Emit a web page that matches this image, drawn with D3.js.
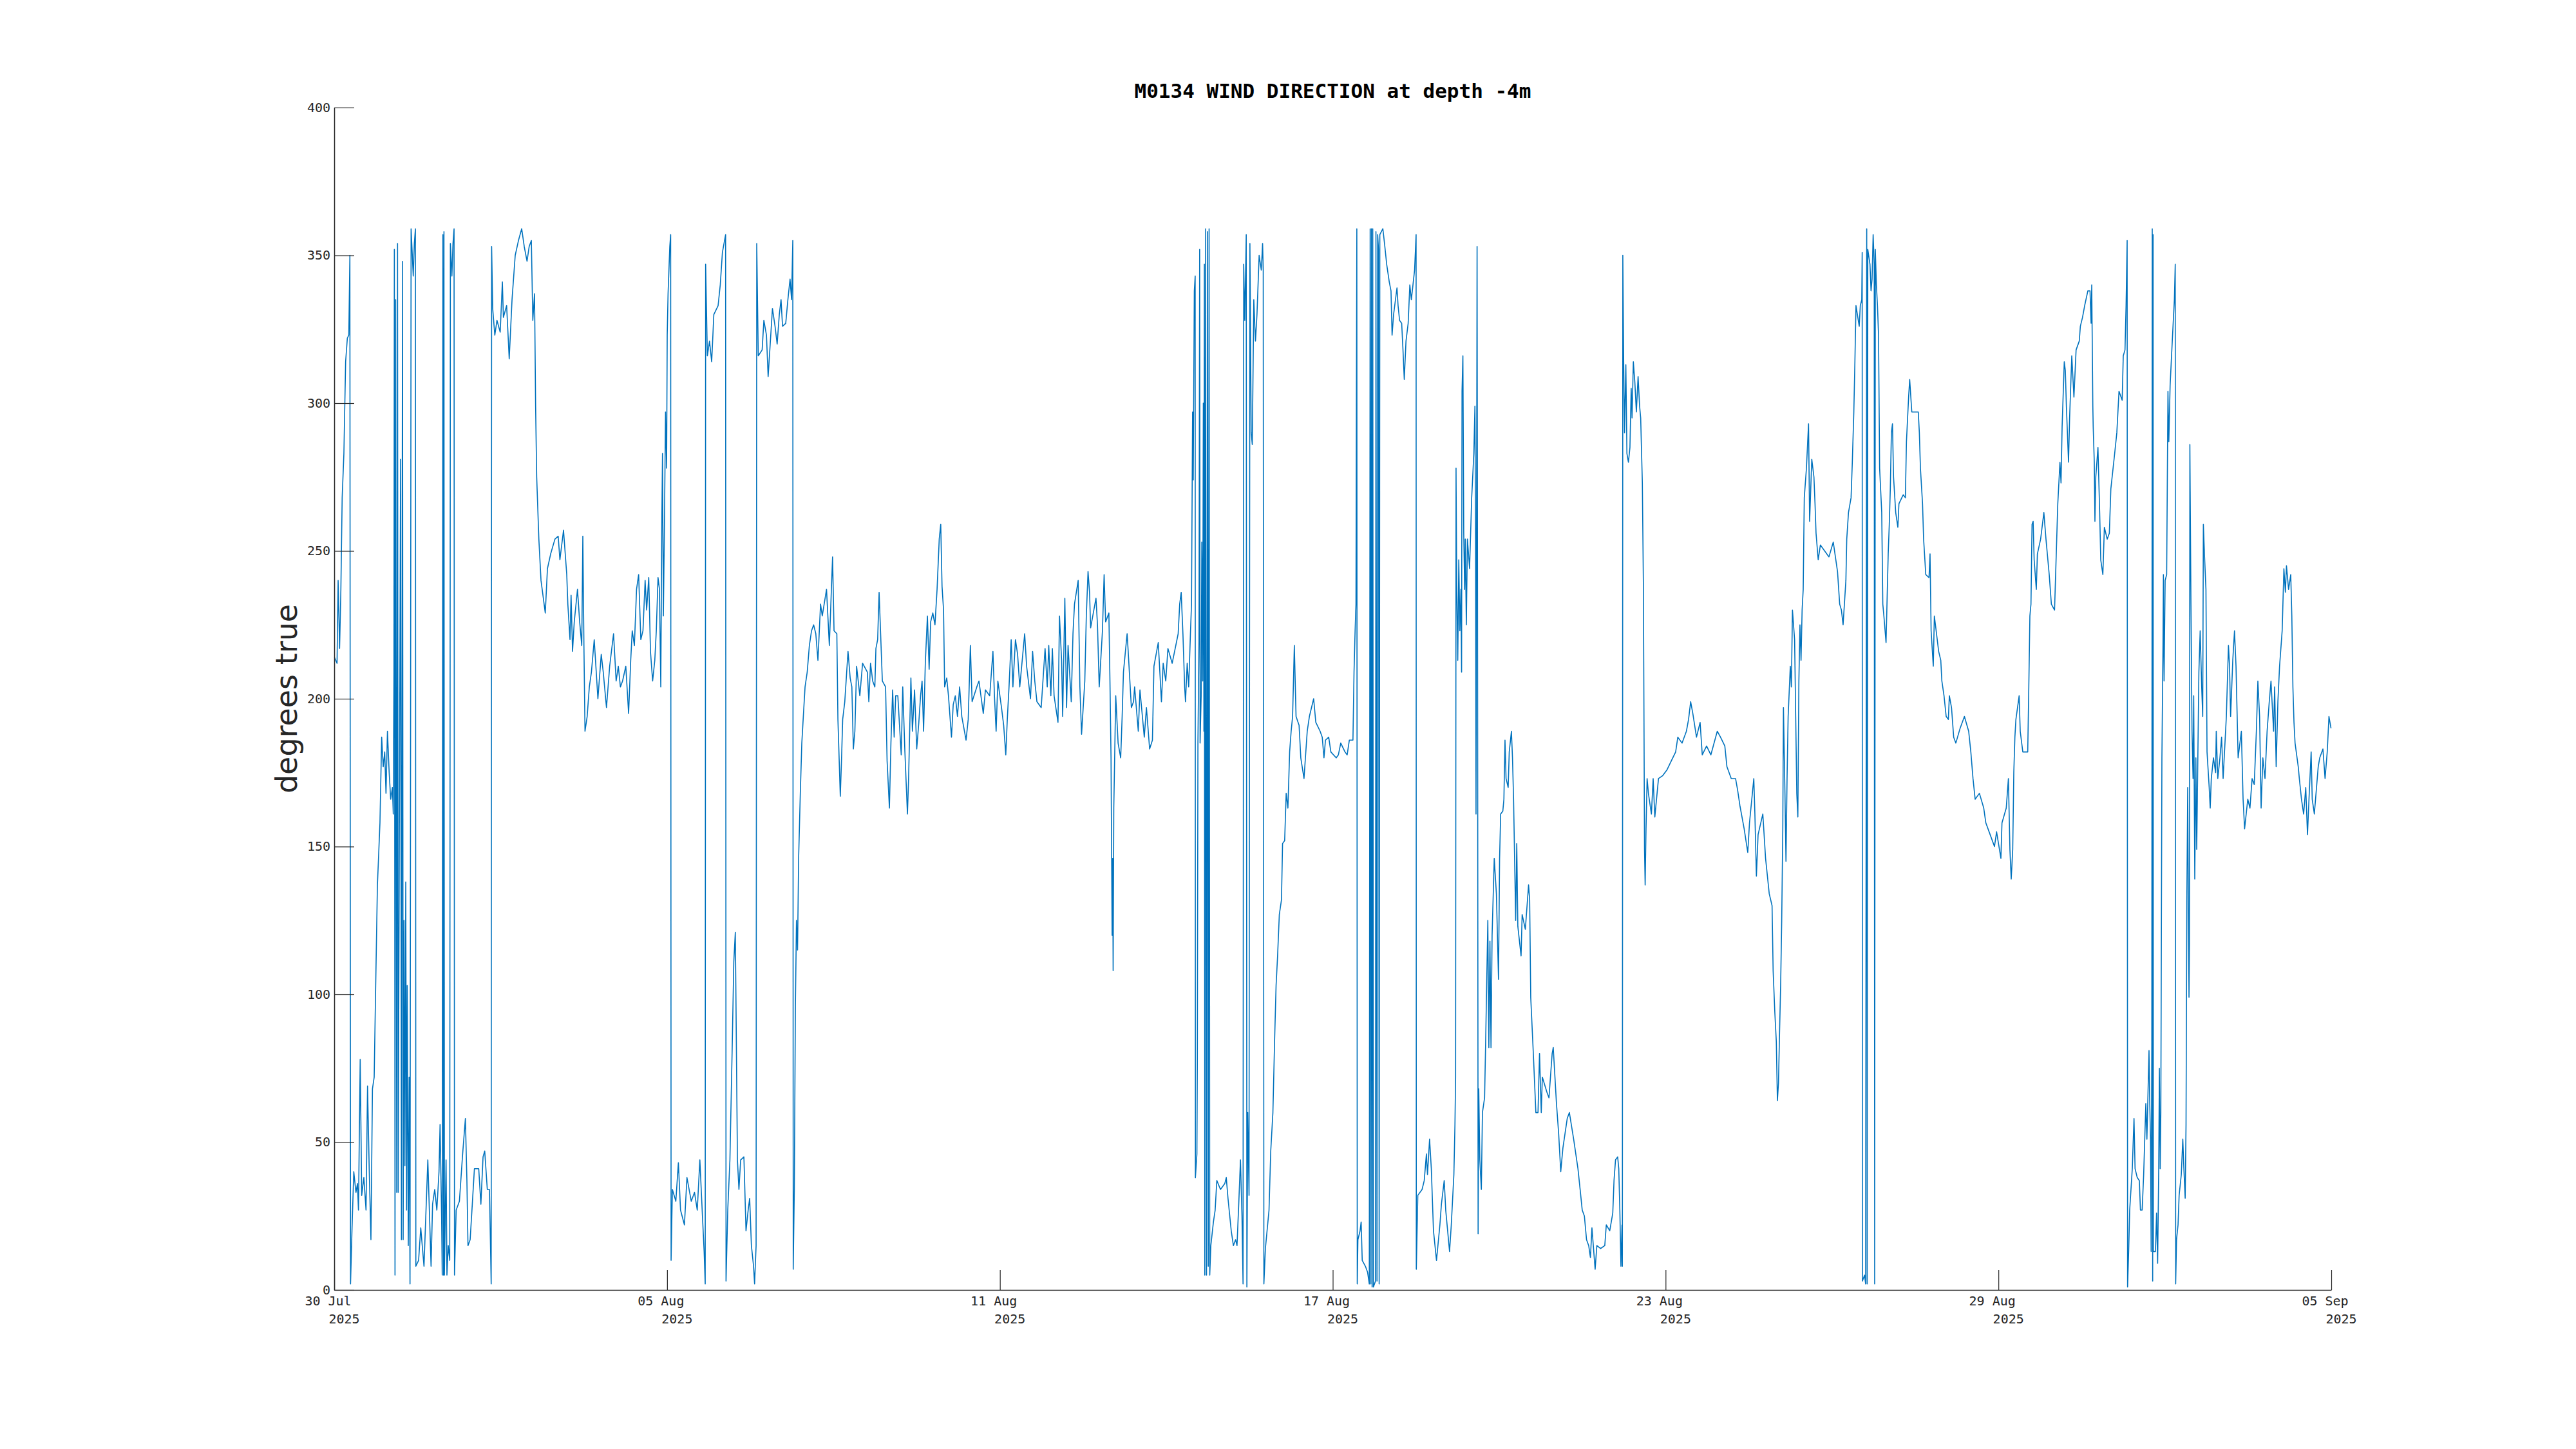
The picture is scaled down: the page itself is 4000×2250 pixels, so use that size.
<!DOCTYPE html>
<html>
<head>
<meta charset="utf-8">
<script src="https://cdn.jsdelivr.net/npm/d3@7"></script>
<style>
  html, body { margin: 0; padding: 0; background: #ffffff; }
  svg { display: block; }
</style>
</head>
<body>
<svg id="chart" width="4000" height="2250"></svg>
<script>
// ---------------- DATA ----------------
const chartTitle = "M0134 WIND DIRECTION at depth -4m";
const yLabel = "degrees true";
const startDateUTC = Date.UTC(2025, 6, 30);   // 30 Jul 2025 00:00
const spanDays = 37;                           // to 05 Sep 2025 00:00
const xTickLabels = ["30 Jul", "05 Aug", "11 Aug", "17 Aug", "23 Aug", "29 Aug", "05 Sep"];
const xTickYears  = ["2025", "2025", "2025", "2025", "2025", "2025", "2025"];
const yTickValues = [0, 50, 100, 150, 200, 250, 300, 350, 400];

// time of each sample, in days since 30 Jul 2025 00:00
const dayOffsets = [
  // 30 Jul - 03 Aug
  0.004,0.052,0.072,0.099,0.123,0.147,0.179,0.211,0.243,0.270,
  0.290,0.302,0.330,0.362,0.402,0.430,0.449,0.481,0.509,0.549,
  0.589,0.617,0.648,0.680,0.708,0.740,0.768,0.800,0.827,0.847,
  0.879,0.907,0.935,0.959,0.986,1.018,1.046,1.078,1.094,1.106,
  1.114,1.126,1.138,1.158,1.173,1.185,1.229,1.245,1.265,1.277,
  1.293,1.309,1.325,1.340,1.352,1.372,1.388,1.404,1.424,1.464,
  1.484,1.504,1.512,1.563,1.603,1.663,1.734,1.794,1.822,1.862,
  1.901,1.941,1.961,1.989,2.001,2.013,2.025,2.033,2.041,2.072,
  2.088,2.112,2.140,2.152,2.180,2.200,2.220,2.228,2.259,2.319,
  2.379,2.430,2.458,2.478,2.518,2.558,2.597,2.677,2.717,2.757,
  2.788,2.836,2.876,2.908,2.916,2.936,2.975,3.015,3.075,3.115,
  3.134,3.194,3.242,3.294,3.353,3.413,3.473,3.520,3.572,3.612,
  3.652,3.679,3.711,3.731,3.751,3.791,3.831,3.910,3.950,4.010,
  4.089,4.149,4.181,4.248,4.308,4.328,4.368,4.388,4.415,4.447,
  4.507,4.547,4.586,4.606,4.626,4.646,
  // 03 Aug - 08 Aug
  4.686,4.726,4.765,4.817,4.885,4.947,4.984,5.044,5.103,5.175,
  5.223,5.263,5.302,5.342,5.402,5.454,5.493,5.521,5.561,5.601,
  5.640,5.680,5.720,5.760,5.788,5.827,5.859,5.899,5.939,5.967,
  5.999,6.026,6.050,6.070,6.082,6.098,6.118,6.138,6.158,6.169,
  6.185,6.205,6.217,6.233,6.241,6.265,6.329,6.376,6.416,6.488,
  6.535,6.615,6.675,6.726,6.774,6.822,6.853,6.873,6.881,6.913,
  6.953,6.993,7.033,7.112,7.152,7.192,7.251,7.259,7.291,7.331,
  7.371,7.403,7.431,7.450,7.470,7.498,7.530,7.590,7.629,7.669,
  7.697,7.729,7.769,7.788,7.816,7.828,7.856,7.928,7.960,8.008,
  8.039,8.119,8.167,8.206,8.246,8.278,8.306,8.365,8.405,8.445,
  8.473,8.496,8.504,8.524,8.544,8.564,8.584,8.604,8.635,8.663,
  8.691,8.723,8.763,8.803,8.843,8.882,8.922,8.962,9.010,9.042,
  9.121,9.173,9.201,9.233,
  // 08 Aug - 12 Aug
  9.260,9.312,9.332,9.376,9.400,9.420,9.459,9.519,9.559,9.590,
  9.618,9.646,9.678,9.738,9.789,9.877,9.905,9.936,9.976,10.016,
  10.036,10.068,10.095,10.123,10.155,10.215,10.243,10.286,10.314,10.346,
  10.374,10.402,10.442,10.473,10.505,10.533,10.573,10.593,10.620,10.640,
  10.684,10.712,10.752,10.792,10.831,10.863,10.891,10.919,10.951,10.990,
  11.022,11.050,11.090,11.130,11.169,11.209,11.237,11.261,11.289,11.309,
  11.348,11.380,11.436,11.468,11.507,11.547,11.587,11.627,11.706,11.746,
  11.786,11.818,11.905,11.945,12.025,12.065,12.144,12.204,12.232,12.263,
  12.295,12.363,12.403,12.442,12.470,12.502,12.542,12.574,12.621,12.661,
  12.701,12.792,12.828,12.900,12.939,12.979,13.019,13.098,13.170,13.210,
  13.238,13.277,13.305,13.337,13.409,13.437,13.476,13.496,13.536,13.568,
  13.596,13.655,13.687,13.715,13.783,13.815,13.846,13.906,13.934,13.966,
  // 12 Aug - 17 Aug
  13.994,14.014,14.054,14.113,14.141,14.173,14.233,14.264,14.292,14.352,
  14.372,14.392,14.412,14.423,14.431,14.443,14.479,14.523,14.571,14.598,
  14.622,14.690,14.710,14.769,14.809,14.829,14.897,14.928,15.008,15.048,
  15.107,15.159,15.187,15.267,15.326,15.358,15.406,15.446,15.525,15.636,
  15.664,15.692,15.724,15.756,15.772,15.803,15.831,15.863,15.883,15.903,
  15.915,15.935,15.951,15.955,15.983,15.991,16.002,16.022,16.034,16.042,
  16.062,16.074,16.090,16.102,16.113,16.121,16.129,16.145,16.161,16.181,
  16.193,16.209,16.221,16.241,16.289,16.321,16.352,16.420,16.500,16.527,
  16.559,16.619,16.659,16.699,16.726,16.758,16.790,16.818,16.838,16.850,
  16.870,16.897,16.909,16.925,16.949,16.965,16.989,17.009,17.037,17.068,
  17.096,17.136,17.176,17.200,17.212,17.224,17.252,17.319,17.351,17.391,
  17.422,17.450,17.478,17.510,17.550,17.570,17.609,17.637,17.669,17.701,
  17.729,17.756,17.788,17.820,17.876,17.908,17.967,18.027,18.067,18.146,
  18.186,18.266,18.305,18.337,18.365,18.425,18.465,18.564,18.604,
  // 17 Aug - 22 Aug
  18.648,18.727,18.767,18.807,18.874,18.894,18.914,18.930,18.938,18.946,
  18.954,18.966,19.006,19.026,19.046,19.105,19.145,19.177,19.193,19.205,
  19.217,19.229,19.241,19.253,19.292,19.300,19.320,19.332,19.348,19.360,
  19.372,19.428,19.459,19.499,19.547,19.579,19.599,19.627,19.690,19.710,
  19.738,19.777,19.801,19.825,19.857,19.897,19.928,19.956,20.016,20.044,
  20.048,20.076,20.155,20.195,20.235,20.255,20.294,20.326,20.366,20.422,
  20.485,20.513,20.565,20.593,20.664,20.696,20.744,20.764,20.776,20.784,
  20.796,20.816,20.835,20.855,20.875,20.887,20.895,20.911,20.927,20.943,
  20.955,20.975,20.995,21.035,21.074,21.114,21.134,21.146,21.154,21.166,
  21.174,21.182,21.193,21.205,21.225,21.253,21.273,21.313,21.333,21.373,
  21.392,21.412,21.432,21.452,21.492,21.532,21.571,21.591,21.611,21.651,
  21.671,21.691,21.711,21.750,21.770,21.810,21.830,21.850,21.889,21.909,
  21.929,21.989,22.009,22.068,22.128,22.148,22.168,22.216,22.263,22.303,
  22.331,22.363,22.383,22.466,22.506,22.565,22.585,22.645,22.685,22.724,
  22.764,22.844,22.884,22.963,23.043,23.083,23.122,23.162,23.202,23.242,
  // 22 Aug - 27 Aug
  23.274,23.302,23.361,23.393,23.461,23.540,23.568,23.632,23.688,23.711,
  23.739,23.779,23.799,23.819,23.839,23.859,23.866,23.874,23.890,23.906,
  23.930,23.950,23.978,24.006,24.029,24.045,24.069,24.097,24.125,24.157,
  24.185,24.205,24.236,24.256,24.276,24.288,24.304,24.324,24.348,24.404,
  24.436,24.467,24.535,24.614,24.694,24.773,24.853,24.893,24.972,25.052,
  25.092,25.131,25.171,25.239,25.306,25.346,25.426,25.505,25.624,25.684,
  25.764,25.803,25.883,25.963,26.002,26.042,26.122,26.189,26.221,26.301,
  26.321,26.349,26.380,26.468,26.519,26.587,26.639,26.659,26.690,26.718,
  26.738,26.758,26.778,26.798,26.818,26.838,26.850,26.878,26.897,26.917,
  26.937,26.977,26.997,27.017,27.057,27.077,27.097,27.117,27.136,27.156,
  27.176,27.196,27.216,27.236,27.276,27.315,27.335,27.375,27.415,27.435,
  27.454,27.494,27.534,27.693,27.773,27.852,27.892,27.924,
  // 27 Aug - 01 Sep
  27.955,28.007,28.023,28.055,28.103,28.126,28.154,28.174,28.194,28.254,
  28.274,28.301,28.309,28.313,28.353,28.373,28.393,28.401,28.413,28.453,
  28.473,28.492,28.512,28.532,28.540,28.552,28.572,28.592,28.612,28.632,
  28.671,28.691,28.711,28.751,28.791,28.811,28.830,28.850,28.870,28.890,
  28.930,28.970,28.990,29.069,29.109,29.129,29.169,29.189,29.228,29.348,
  29.368,29.388,29.427,29.447,29.487,29.547,29.566,29.586,29.626,29.646,
  29.726,29.765,29.785,29.825,29.865,29.905,29.924,29.964,30.004,30.044,
  30.123,30.203,30.282,30.322,30.362,30.402,30.481,30.561,30.600,30.680,
  30.760,30.799,30.879,30.899,30.978,31.018,31.046,31.070,31.098,31.118,
  31.138,31.157,31.217,31.237,31.285,31.376,31.396,31.416,31.436,31.456,
  31.476,31.495,31.535,31.555,31.615,31.675,31.714,31.774,31.814,31.873,
  31.893,31.913,31.933,31.973,31.993,32.013,32.053,32.073,32.092,32.132,
  32.152,32.192,32.232,32.272,32.331,32.351,32.391,32.431,32.490,32.530,
  32.550,32.562,32.582,
  // 01 Sep - 05 Sep
  32.589,32.609,32.621,32.637,32.677,32.709,32.729,32.768,32.796,32.848,
  32.888,32.916,32.987,33.027,33.067,33.126,33.146,33.178,33.198,33.218,
  33.226,33.246,33.265,33.313,33.345,33.365,33.405,33.444,33.464,33.496,
  33.524,33.564,33.584,33.623,33.635,33.651,33.663,33.675,33.683,33.691,
  33.699,33.703,33.743,33.763,33.783,33.803,33.815,33.830,33.842,33.862,
  33.882,33.890,33.902,33.922,33.950,33.974,33.990,34.014,34.054,34.093,
  34.109,34.117,34.133,34.161,34.181,34.221,34.249,34.269,34.293,34.309,
  34.324,34.340,34.352,34.364,34.372,34.380,34.400,34.420,34.439,34.451,
  34.471,34.491,34.507,34.547,34.571,34.599,34.618,34.630,34.650,34.678,
  34.698,34.738,34.757,34.777,34.817,34.857,34.869,34.897,34.937,34.968,
  34.996,35.056,35.095,35.115,35.135,35.175,35.207,35.235,35.274,35.334,
  35.366,35.394,35.453,35.493,35.533,35.573,35.612,35.640,35.672,35.700,
  35.732,35.772,35.811,35.851,35.883,35.931,35.951,35.979,36.011,36.042,
  36.090,36.122,36.150,36.170,36.209,36.249,36.269,36.289,36.309,36.329,
  36.388,36.408,36.448,36.488,36.527,36.559,36.587,36.627,36.647,36.686,
  36.758,36.786,36.845,36.885,36.925,36.957,36.995
];

// wind direction (degrees true) at each sample
const directions = [
  // 30 Jul - 03 Aug
  214,212,240,217,237,268,283,314,322,323,
  350,2,21,40,33,36,27,78,32,38,
  27,69,41,17,68,72,103,137,149,158,
  187,177,182,168,189,175,166,170,161,209,
  352,5,335,33,354,33,281,17,348,17,
  125,42,138,27,103,15,72,2,359,343,
  354,359,8,10,21,8,44,8,29,34,
  27,40,56,25,5,357,5,358,5,44,
  5,15,10,354,343,354,359,5,27,30,
  46,58,37,15,17,29,41,41,29,45,
  47,34,34,2,353,332,323,328,324,341,
  329,333,315,335,350,355,359,353,348,353,
  355,328,337,299,275,254,240,229,244,249,
  254,255,247,257,242,232,220,235,216,226,
  237,226,218,255,218,189,
  // 03 Aug - 08 Aug
  194,204,209,220,200,215,209,197,211,222,
  206,211,204,206,211,195,213,223,218,237,
  242,220,223,240,230,241,216,206,213,223,
  241,237,204,261,283,228,259,297,278,323,
  337,347,353,357,10,34,30,43,27,22,
  38,30,33,27,44,25,13,2,347,316,
  321,314,330,333,340,351,357,3,27,44,
  80,111,121,84,44,34,44,45,20,27,
  31,15,8,2,15,354,316,318,328,323,
  309,332,326,320,330,335,326,327,335,342,
  335,355,7,34,96,125,115,146,168,185,
  194,204,209,218,223,225,222,213,232,228,
  237,218,232,248,
  // 08 Aug - 12 Aug
  223,222,193,167,180,193,199,216,207,204,
  183,189,211,201,212,209,199,212,206,204,
  217,220,236,222,206,204,179,163,185,203,
  187,201,201,191,181,204,182,173,161,172,
  207,189,203,183,192,201,206,189,212,228,
  210,226,229,225,237,254,259,238,230,204,
  207,201,187,198,201,194,204,194,186,193,
  218,199,204,206,195,203,201,216,201,189,
  206,197,191,181,193,204,220,204,220,215,
  204,222,211,200,216,206,199,197,217,204,
  218,201,217,201,192,228,213,194,234,197,
  218,199,222,232,240,204,188,206,228,243,
  // 12 Aug - 17 Aug
  236,224,228,234,225,204,223,242,226,229,
  206,180,120,146,108,163,201,185,180,194,
  209,222,216,197,199,204,189,203,187,197,
  183,186,211,219,199,212,206,217,212,222,
  232,236,222,204,199,212,204,222,232,297,
  274,338,343,38,46,77,185,220,352,185,
  201,253,206,300,189,347,5,359,5,358,
  8,359,5,15,23,27,37,34,36,38,
  31,20,15,17,15,29,44,25,2,347,
  328,357,1,60,32,354,290,286,335,321,
  330,350,345,354,345,2,14,27,47,60,
  84,103,113,127,132,151,152,168,163,182,
  189,194,218,194,191,180,173,189,194,200,
  192,189,187,180,186,187,182,180,181,
  // 17 Aug - 22 Aug
  185,182,181,186,186,209,223,232,299,359,
  2,17,20,23,10,8,6,2,359,2,
  359,1,359,1,3,358,3,357,352,2,
  357,359,354,347,341,338,323,330,339,333,
  328,327,318,308,321,327,340,335,345,357,
  7,32,34,37,46,39,51,41,20,10,
  22,29,37,27,13,22,39,56,72,278,
  240,213,247,223,237,209,304,316,256,237,
  254,225,254,244,268,283,299,254,161,271,
  353,240,19,68,44,34,60,65,84,125,
  82,118,82,120,146,134,105,146,161,162,
  166,186,173,170,182,189,180,166,125,151,
  123,113,127,122,137,132,99,80,60,60,
  80,60,72,67,65,80,82,63,53,40,
  48,58,60,51,41,34,27,25,17,15,
  // 22 Aug - 27 Aug
  11,21,7,15,14,15,22,20,26,37,
  44,45,41,27,8,22,8,350,314,290,
  313,283,280,285,305,295,314,307,297,309,
  299,295,273,237,149,137,156,173,168,161,
  173,160,173,174,176,179,182,187,185,189,
  193,199,195,187,192,181,184,181,189,187,
  184,177,173,173,169,164,156,148,158,173,
  161,140,154,161,146,134,130,108,94,84,
  64,70,87,103,125,156,197,168,145,173,
  194,211,204,230,220,194,168,160,206,225,
  213,230,237,268,278,293,260,281,275,266,
  256,247,252,248,253,243,232,230,
  // 27 Aug - 01 Sep
  225,240,254,263,268,280,297,314,333,326,
  333,335,351,3,5,2,359,2,352,347,
  338,342,357,347,2,352,340,333,323,278,
  263,232,228,219,249,259,271,290,293,275,
  263,258,266,269,268,287,302,308,297,297,
  290,278,266,254,242,241,249,223,211,228,
  216,213,206,201,194,193,201,197,187,185,
  190,194,189,182,173,166,168,163,158,154,
  150,155,146,158,163,173,149,139,149,175,
  187,193,201,189,182,182,204,228,232,259,
  260,247,237,249,254,263,254,242,232,230,
  242,254,266,280,273,292,314,311,299,280,
  295,316,302,318,321,326,329,333,338,338,
  327,340,299,
  // 01 Sep - 05 Sep
  292,280,260,275,285,263,247,242,258,254,
  256,271,283,290,304,301,316,318,333,355,
  1,13,27,41,58,41,38,37,27,27,
  39,63,51,81,65,51,13,84,359,3,
  357,13,13,26,9,41,75,41,60,180,
  218,242,206,240,242,304,287,306,321,335,
  347,2,17,22,32,39,51,41,31,56,
  132,170,132,99,117,286,232,189,173,201,
  139,180,149,209,223,204,194,259,249,237,
  182,170,163,173,180,175,189,173,180,187,
  173,194,218,211,194,213,223,211,180,189,
  166,156,166,163,173,171,189,206,194,163,
  180,173,189,199,206,189,204,177,199,211,
  223,244,236,245,237,242,228,204,192,185,
  177,173,166,161,170,154,166,182,166,161,
  177,180,183,173,182,194,190
];

// ---------------- DRAWING ----------------
const DAY_MS = 864e5;
const ink = "#262626";
const monoFont = "'DejaVu Sans Mono', 'Liberation Mono', monospace";

const svg = d3.select("#chart");
svg.append("rect").attr("width", 4000).attr("height", 2250).attr("fill", "#ffffff");

const plot = { left: 519, right: 3620, top: 167, bottom: 2003 };

const x = d3.scaleUtc()
  .domain([new Date(startDateUTC), new Date(startDateUTC + spanDays * DAY_MS)])
  .range([plot.left, plot.right]);

const y = d3.scaleLinear()
  .domain([0, 400])
  .range([plot.bottom, plot.top]);

const n = Math.min(dayOffsets.length, directions.length);
const samples = d3.range(n).map(i => ({
  date: new Date(startDateUTC + dayOffsets[i] * DAY_MS),
  value: directions[i]
}));

// data line
const line = d3.line().x(d => x(d.date)).y(d => y(d.value));
svg.append("path")
  .datum(samples)
  .attr("fill", "none")
  .attr("stroke", "#0072BD")
  .attr("stroke-width", 1.6)
  .attr("stroke-linejoin", "round")
  .attr("d", line);

// x axis: ticks evenly spaced between the limits
const xTickDates = xTickLabels.map((_, i) =>
  new Date(startDateUTC + i * spanDays / (xTickLabels.length - 1) * DAY_MS));

const xAxisG = svg.append("g")
  .attr("transform", `translate(0,${plot.bottom})`)
  .call(d3.axisBottom(x).tickValues(xTickDates).tickSizeInner(-31).tickSizeOuter(0).tickFormat(""));
xAxisG.selectAll(".tick text").remove();
xAxisG.selectAll(".tick").each(function(d, i) {
  const t = d3.select(this);
  t.append("text").attr("x", -10).attr("y", 24).attr("text-anchor", "middle").text(xTickLabels[i]);
  t.append("text").attr("x", 15).attr("y", 52).attr("text-anchor", "middle").text(xTickYears[i]);
});

// y axis
const yAxisG = svg.append("g")
  .attr("transform", `translate(${plot.left},0)`)
  .call(d3.axisLeft(y).tickValues(yTickValues).tickSizeInner(-31).tickSizeOuter(0).tickPadding(6));

[xAxisG, yAxisG].forEach(g => {
  g.attr("font-family", monoFont).attr("font-size", 20);
  g.selectAll("path.domain").attr("stroke", ink).attr("stroke-width", 1.5);
  g.selectAll(".tick line").attr("stroke", ink).attr("stroke-width", 1.2);
  g.selectAll("text").attr("fill", ink).style("font-family", monoFont).style("font-size", "20px");
});

// title
svg.append("text")
  .attr("x", (plot.left + plot.right) / 2)
  .attr("y", 152)
  .attr("text-anchor", "middle")
  .style("font-family", monoFont)
  .style("font-weight", "bold")
  .style("font-size", "31px")
  .attr("fill", "#000000")
  .text(chartTitle);

// y label
svg.append("text")
  .attr("transform", `translate(461,${(plot.top + plot.bottom) / 2}) rotate(-90)`)
  .attr("text-anchor", "middle")
  .style("font-family", "'DejaVu Sans', sans-serif")
  .style("font-size", "46px")
  .attr("fill", ink)
  .text(yLabel);
</script>
</body>
</html>
